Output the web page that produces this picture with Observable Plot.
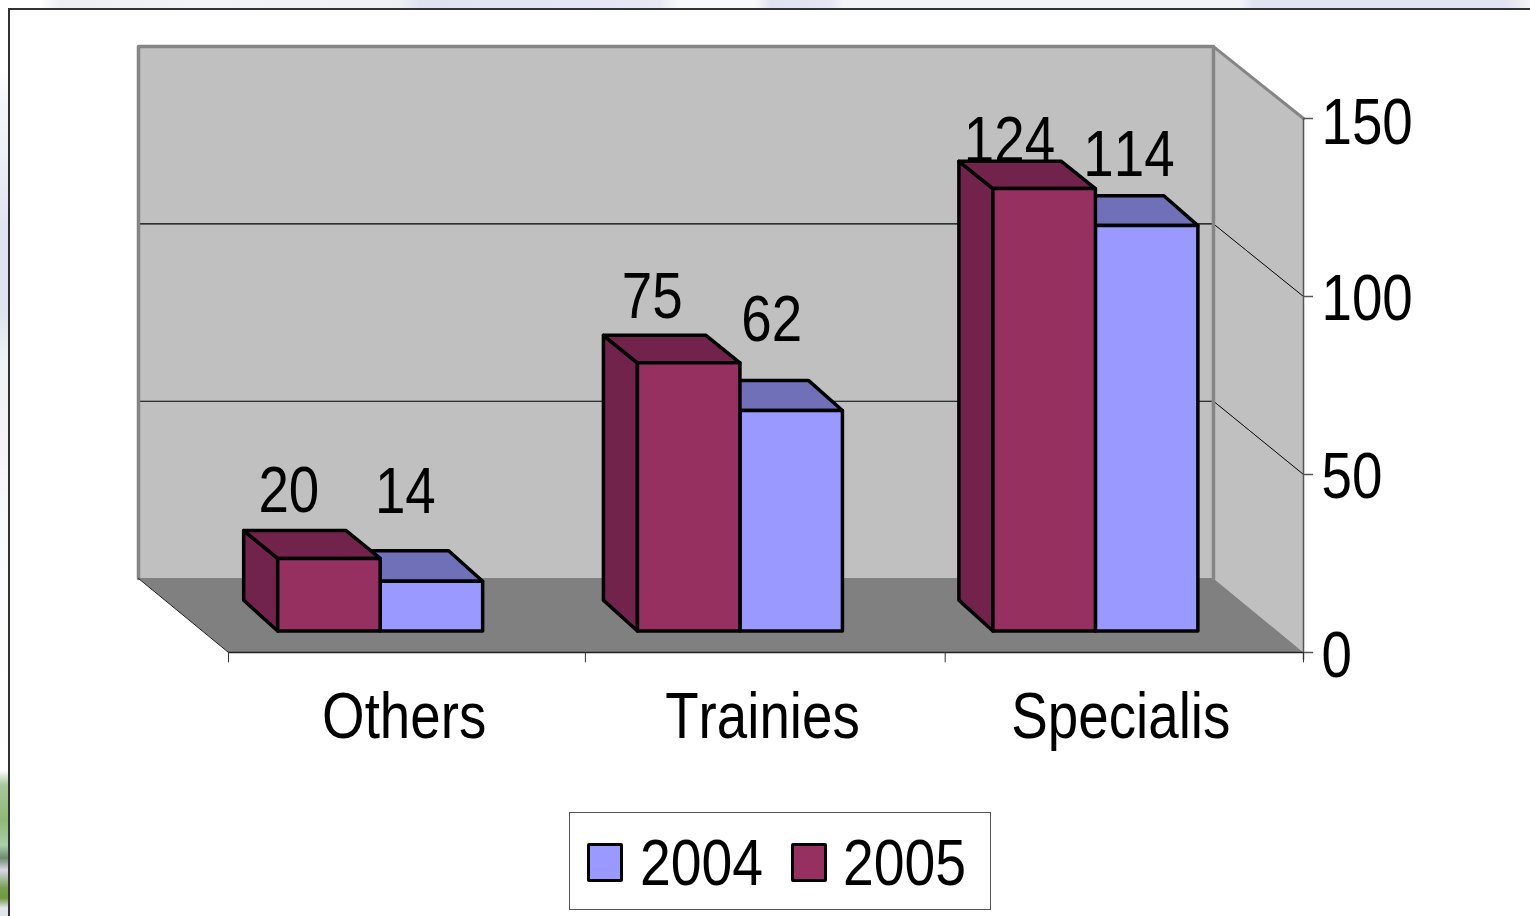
<!DOCTYPE html>
<html>
<head>
<meta charset="utf-8">
<script src="https://cdn.jsdelivr.net/npm/d3@7"></script>
<script src="https://cdn.jsdelivr.net/npm/@observablehq/plot@0.6"></script>
<style>
  html, body { margin: 0; height: 100%; overflow: hidden; }
  body {
    position: relative; width: 1530px; height: 916px; font-family: "Liberation Sans", Arial, sans-serif;
    font-kerning: none;
    background:
      linear-gradient(180deg, #fff 0 70px, #f4f5f9 100px, #eef0f8 150px, #e0e3f0 240px, #e0e3f0 310px, #eef3f5 360px, #f6f2f8 450px, #f7f8fb 500px, #fdfdfe 650px, #fff 770px, #a9c79b 785px, #8fb878 820px, #a8cfa8 845px, #6e8a70 858px, #d8d8e6 870px, #78a050 888px, #70983f 898px, #e4e8ee 908px, #dfe4ea 916px) left top / 8px 916px no-repeat,
      linear-gradient(90deg, #fff 0 40px, #eceef4 60px, #f3f4f8 200px, #eef0f5 400px, #dfe3f0 418px, #e2e5f2 540px, #e6e8f4 660px, #f8f9fb 680px, #f8f9fb 755px, #e0e3f0 770px, #e4e7f2 830px, #f2f5f8 845px, #f2f5f8 1240px, #e0e3f0 1255px, #e0e3f0 1505px, #f4f4f7 1530px) left top / 1530px 8px no-repeat,
      #fff;
  }
  #panel { position: absolute; left: 8px; top: 8px; width: 1540px; height: 930px; background: #fff; border: 2px solid #333; box-sizing: border-box; }
  #chart { position: absolute; left: 0; top: 0; }
  #chart text { font-kerning: none; }
  #legend { position: absolute; left: 569px; top: 812px; width: 422px; height: 98px; box-sizing: border-box; border: 1px solid #555; background: #fff; }
  #legend i { position: absolute; top: 30px; width: 36px; height: 39px; box-sizing: border-box; border: 3.5px solid #000; border-radius: 2px; }
  #legend span { position: absolute; top: 13px; font-size: 64px; line-height: 74px; transform: scaleX(.865); transform-origin: left center; color: #000; }
</style>
</head>
<body>
<div id="panel"></div>
<div id="chart"></div>
<div id="legend">
  <i style="left:17px;background:#9999ff"></i><span style="left:70px">2004</span>
  <i style="left:221px;background:#963060"></i><span style="left:273px">2005</span>
</div>
<script>
const categories = ["Others", "Trainies", "Specialis"];
const values2004 = [14, 62, 114];
const values2005 = [20, 75, 124];
const yTicks = [0, 50, 100, 150];
const gridTicks = [50, 100];
const xTicks = [0, 0.996, 2, 3];

// oblique projection of the 3-D box: depth 0 = front of floor, depth 1 = back wall
const DX = -0.2512, DY = 20.79, SHRINK = 0.004;
const X = (c, d) => c + d * DX;
const Y = (v, d) => v * (1 - SHRINK * d) + d * DY;
const FRONT = 0.284, BACK = 0.662, BAR = 0.286, LIFT = 0.8;
const GROUP_NUDGE = [-0.004, 0, -0.008];

const bars = (vals, side, topFront, topBack) => vals.map((v, i) => {
  const c = i + 0.5 + GROUP_NUDGE[i] + (side < 0 ? -BAR : 0);
  return {i, v: v + topFront, vb: v + topBack, x0: c, x1: c + BAR};
});
const b2004 = bars(values2004, 1, 0, 0.7), b2005 = bars(values2005, -1, 0.4, 0.4);

const barStroke = {stroke: "#000", strokeWidth: 3.5, strokeLinejoin: "round"};
const frontRect = (rows, fill) => Plot.rect(rows, {
  x1: d => X(d.x0, FRONT), x2: d => X(d.x1, FRONT),
  y1: Y(0, FRONT), y2: d => Y(d.v, FRONT),
  fill, ...barStroke
});
const topFace = (rows, fill) => Plot.area(rows.flatMap(d => [
  {id: d.i, y: Y(d.v, FRONT), a: X(d.x0, FRONT), b: X(d.x1, FRONT)},
  {id: d.i, y: Y(d.vb, BACK), a: X(d.x0, BACK), b: X(d.x1, BACK)}
]), {x1: "a", x2: "b", y1: "y", y2: "y", z: "id", fill, ...barStroke});
const sideFace = (rows, fill) => Plot.area(rows.flatMap(d => [
  {id: d.i, x: X(d.x0, FRONT), lo: Y(0, FRONT), hi: Y(d.v, FRONT)},
  {id: d.i, x: X(d.x0, BACK), lo: Y(LIFT, BACK), hi: Y(d.vb, BACK)}
]), {x1: "x", x2: "x", y1: "lo", y2: "hi", z: "id", fill, ...barStroke});

const wall = "#c0c0c0", floor = "#808080", edge = "#858585";

const valueLabel = (c, v, dx, dy) => Plot.text([v], {
  x: X(c, BACK), y: Y(v, BACK), text: d => String(d),
  fontSize: 64, fill: "#000", dx, dy
});

const chart = Plot.plot({
  width: 1530, height: 916,
  margin: 0,
  style: {background: "transparent", fontFamily: "Liberation Sans, Arial, sans-serif", overflow: "visible"},
  x: {domain: [0, 3], range: [228, 1303], axis: null},
  y: {domain: [0, 150], range: [652, 118], axis: null},
  marks: [
    // back wall
    Plot.rect([0], {x1: X(0, 1), x2: X(3, 1), y1: Y(0, 1), y2: Y(150, 1), fill: wall}),
    // right wall
    Plot.area([0, 1], {x1: d => X(3, d), x2: d => X(3, d), y1: d => Y(0, d), y2: d => Y(150, d), fill: wall}),
    // floor
    Plot.area([0, 1], {x1: d => X(0, d), x2: d => X(3, d), y1: d => Y(0, d), y2: d => Y(0, d), fill: floor}),
    // gridlines
    Plot.ruleY(gridTicks, {x1: X(0, 1), x2: X(3, 1), y: d => Y(d, 1), stroke: "#000", strokeWidth: 1.1}),
    gridTicks.map(t => Plot.line([0, 1], {x: d => X(3, d), y: d => Y(t, d), stroke: "#000", strokeWidth: 1})),
    // wall edges
    Plot.line([[X(0, 1), Y(0, 1)], [X(0, 1), Y(150, 1)], [X(3, 1), Y(150, 1)], [X(3, 1), Y(0, 1)]],
      {x: "0", y: "1", stroke: edge, strokeWidth: 3.5}),
    Plot.line([1, 0], {x: d => X(3, d), y: d => Y(150, d), stroke: edge, strokeWidth: 3}),
    Plot.line([1, 0], {x: d => X(0, d), y: d => Y(0, d), stroke: "#222", strokeWidth: 1}),
    // axes
    Plot.ruleX([3], {y1: -2.2, y2: 150, stroke: "#555", strokeWidth: 1.5}),
    Plot.ruleY(yTicks, {x1: 3, x2: 3.028, stroke: "#555", strokeWidth: 1.5}),
    Plot.ruleY([0], {x1: 0, x2: 3, stroke: "#222", strokeWidth: 1.5}),
    Plot.ruleX(xTicks, {y1: 0, y2: -2.9, stroke: "#333", strokeWidth: 1}),
    Plot.text(yTicks.slice(0, 1), {x: 3, y: d => d, text: d => String(d), textAnchor: "start", dx: 18, dy: 4, fontSize: 64, fill: "#000"}),
    Plot.text(yTicks.slice(1, 3), {x: 3, y: d => d, text: d => String(d), textAnchor: "start", dx: 18, dy: 3, fontSize: 64, fill: "#000"}),
    Plot.text(yTicks.slice(3), {x: 3, y: d => d, text: d => String(d), textAnchor: "start", dx: 18, dy: 5, fontSize: 64, fill: "#000"}),
    Plot.text(categories, {x: (d, i) => i + 0.5, y: 0, text: d => d, dy: 65, dx: -3.5, fontSize: 64, fill: "#000"}),
    // value labels, behind the bars
    valueLabel(0.5 - BAR / 2, values2005[0], -8, -41),
    valueLabel(1.5 - BAR / 2, values2005[1], -3, -40),
    valueLabel(2.5 - BAR / 2, values2005[2], -4, -22),
    valueLabel(0.5 + BAR / 2, values2004[0], 6, -61),
    valueLabel(1.5 + BAR / 2, values2004[1], 14, -63),
    valueLabel(2.5 + BAR / 2, values2004[2], 13, -43),
    // bars
    topFace(b2004, "#7070b9"),
    frontRect(b2004, "#9999ff"),
    sideFace(b2005, "#71234b"),
    topFace(b2005, "#71234b"),
    frontRect(b2005, "#963060")
  ]
});
document.getElementById("chart").append(chart);

// the source chart's type is horizontally condensed
chart.querySelectorAll("text").forEach(t => {
  const w = t.getComputedTextLength();
  if (w > 0) {
    t.setAttribute("textLength", (w * 0.855).toFixed(1));
    t.setAttribute("lengthAdjust", "spacingAndGlyphs");
  }
});
</script>
</body>
</html>
